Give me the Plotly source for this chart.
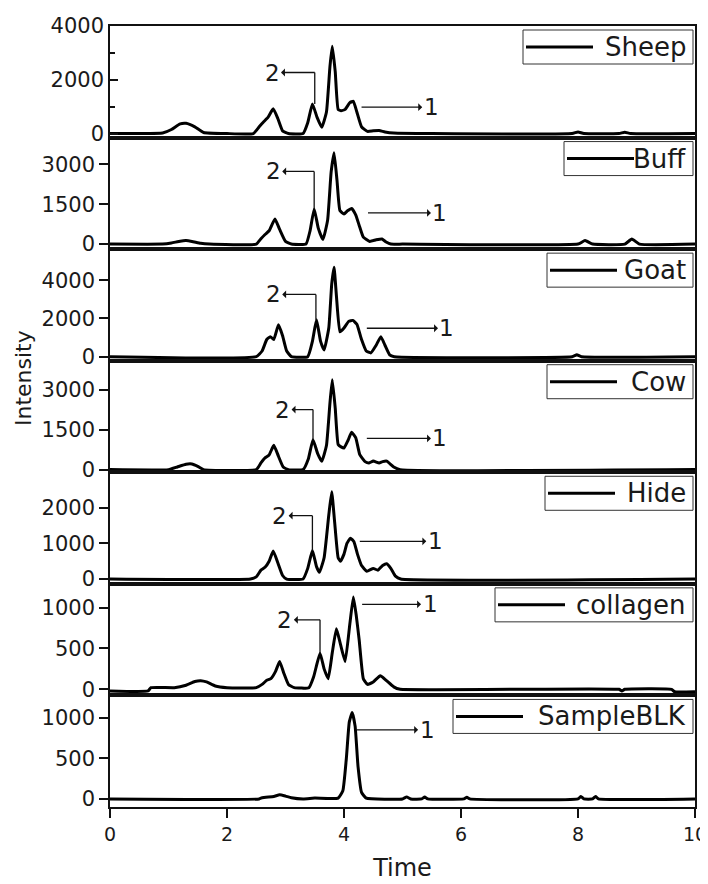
import plotly.graph_objects as go
from plotly.subplots import make_subplots

# ---------------- data ----------------
names = ["Sheep", "Buff", "Goat", "Cow", "Hide", "collagen", "SampleBLK"]

sheep_t = [0, 0.5, 0.9, 1.05, 1.2, 1.3, 1.45, 1.6, 2.0, 2.45, 2.55, 2.62, 2.7, 2.79, 2.87, 2.95, 3.05,
           3.3, 3.38, 3.46, 3.54, 3.62, 3.7, 3.76, 3.80, 3.85, 3.9, 3.95, 4.02, 4.1, 4.16, 4.22, 4.3,
           4.4, 4.5, 4.6, 4.7, 4.85, 5.5, 7.9, 8.0, 8.1, 8.7, 8.8, 8.9, 10]
sheep_i = [0, 0, 20, 150, 360, 380, 250, 40, 0, 0, 250, 420, 600, 920, 550, 100, 0,
           0, 400, 1100, 600, 230, 800, 2500, 3250, 2300, 900, 850, 900, 1150, 1200, 800, 250,
           80, 100, 110, 60, 20, 0, 0, 60, 0, 0, 50, 0, 0]

buff_t = [0, 0.9, 1.05, 1.2, 1.3, 1.4, 1.55, 1.7, 2.5, 2.58, 2.65, 2.72, 2.82, 2.9, 3.0, 3.1,
          3.35, 3.42, 3.49, 3.56, 3.64, 3.72, 3.78, 3.83, 3.88, 3.93, 4.0, 4.06, 4.13, 4.2, 4.26,
          4.33, 4.44, 4.55, 4.65, 4.72, 4.8, 5.0, 8.0, 8.12, 8.25, 8.8, 8.92, 9.05, 10]
buff_i = [0, 0, 40, 110, 130, 100, 30, 0, 0, 200, 360, 500, 940, 550, 100, 0,
          0, 500, 1320, 600, 170, 900, 2700, 3430, 2400, 1260, 1130, 1250, 1340, 1100, 700,
          260, 100, 160, 190, 80, 0, 0, 0, 130, 0, 0, 190, 0, 0]

goat_t = [0, 2.5, 2.6, 2.68, 2.74, 2.8, 2.88, 2.95, 3.02, 3.1, 3.38, 3.46, 3.53, 3.6, 3.66, 3.74,
          3.79, 3.83, 3.87, 3.93, 4.0, 4.08, 4.15, 4.22, 4.3, 4.38, 4.46, 4.55, 4.63, 4.7, 4.78,
          4.86, 7.9, 7.98, 8.06, 10]
goat_i = [0, 0, 300, 900, 1050, 900, 1670, 1100, 300, 0, 0, 800, 1930, 800, 350, 1500,
          3800, 4680, 3200, 1300, 1500, 1850, 1900, 1700, 900, 300, 200, 600, 1050, 600, 100,
          0, 0, 100, 0, 0]

cow_t = [0, 1.0, 1.15, 1.3, 1.4, 1.5, 1.6, 2.5, 2.58, 2.65, 2.72, 2.8, 2.88, 2.96, 3.05, 3.3,
         3.39, 3.47, 3.55, 3.62, 3.7, 3.76, 3.80, 3.85, 3.9, 3.95, 4.0, 4.07, 4.13, 4.2, 4.27,
         4.36, 4.43, 4.5, 4.6, 4.66, 4.73, 4.85, 4.96, 10]
cow_i = [0, 0, 100, 200, 210, 120, 0, 0, 250, 440, 550, 910, 500, 100, 0, 0,
         400, 1120, 600, 310, 900, 2500, 3370, 2300, 940, 850, 810, 1100, 1400, 1200, 560,
         300, 250, 320, 250, 300, 320, 100, 0, 0]

hide_t = [0, 2.4, 2.5, 2.58, 2.65, 2.72, 2.79, 2.87, 2.95, 3.02, 3.3, 3.38, 3.46, 3.53, 3.58,
          3.66, 3.74, 3.79, 3.84, 3.9, 3.94, 4.0, 4.05, 4.11, 4.17, 4.23, 4.3, 4.39, 4.5, 4.58,
          4.66, 4.73, 4.8, 4.88, 4.97, 10]
hide_i = [0, 0, 60, 250, 330, 500, 790, 450, 100, 0, 0, 300, 800, 350, 190,
          600, 1800, 2450, 1600, 600, 500, 700, 1000, 1150, 1050, 700, 380, 220, 300, 250,
          380, 430, 300, 80, 0, 0]

collagen_t = [0, 0.65, 0.7, 1.1, 1.3, 1.45, 1.55, 1.65, 1.8, 2.0, 2.5, 2.6, 2.68, 2.75, 2.83,
              2.9, 2.97, 3.05, 3.15, 3.4, 3.48, 3.59, 3.66, 3.73, 3.8, 3.87, 3.94, 4.02, 4.1,
              4.16, 4.21, 4.26, 4.33, 4.4, 4.5, 4.62, 4.72, 4.85, 4.96, 8.7, 8.75, 8.8, 9.6,
              9.65, 10]
collagen_i = [-20, -20, 20, 20, 50, 95, 105, 90, 40, 20, 20, 60, 110, 130, 220,
              340, 200, 60, 20, 20, 150, 440, 250, 130, 450, 740, 550, 340, 800,
              1130, 900, 600, 130, 60, 90, 165, 110, 30, 0, 0, -20, 0, 0,
              -30, -30]

blk_t = [0, 2.55, 2.6, 2.8, 2.9, 3.0, 3.1, 3.3, 3.5, 3.9, 3.98, 4.04, 4.09, 4.14, 4.19, 4.24,
         4.3, 4.38, 5.0, 5.07, 5.14, 5.33, 5.38, 5.43, 6.05, 6.1, 6.15, 8.0, 8.05, 8.1, 8.25,
         8.3, 8.35, 10]
blk_i = [0, 0, 15, 30, 50, 35, 15, 0, 10, 10, 100, 500, 950, 1070, 900, 400,
         80, 10, 0, 25, 0, 0, 25, 0, 0, 20, 0, 0, 30, 0, 0,
         30, 0, 0]

times = [sheep_t, buff_t, goat_t, cow_t, hide_t, collagen_t, blk_t]
intensities = [sheep_i, buff_i, goat_i, cow_i, hide_i, collagen_i, blk_i]

y_ranges = [[-150, 4000], [-190, 4000], [-210, 5630], [-100, 4080], [-135, 3000], [-75, 1290], [-100, 1280]]
y_ticks = [[0, 2000, 4000], [0, 1500, 3000], [0, 2000, 4000], [0, 1500, 3000],
           [0, 1000, 2000], [0, 500, 1000], [0, 500, 1000]]
x_ticks = [0, 2, 4, 6, 8, 10]

# peak "2" marker: (label time, label level, peak time, peak top)
peak2 = [(2.77, 2270, 3.50, 1100), (2.79, 2730, 3.49, 1320), (2.79, 3260, 3.52, 1930),
         (2.95, 2250, 3.47, 1120), (2.90, 1780, 3.46, 800), (2.99, 850, 3.59, 440), None]
# peak "1" marker: (arrow start time, label time, level)
peak1 = [(4.30, 5.49, 980), (4.41, 5.64, 1170), (4.39, 5.76, 1490), (4.39, 5.64, 1170),
         (4.27, 5.56, 1060), (4.31, 5.47, 1040), (4.22, 5.42, 855)]

# legend box widths (px) per panel
legend_w = [170, 129, 146, 146, 148, 198, 240]

# ---------------- figure ----------------
# the page body has an 8px default margin, so the figure is sized to fit inside it
FONT = "DejaVu Sans"
TXT = "#1a1a1a"
W, H = 700, 876
ML, MR, MT, MB = 102, 13, 18, 77
PW = W - ML - MR
n = len(names)
PH = (H - MT - MB) / n

fig = make_subplots(rows=n, cols=1, shared_xaxes=True, vertical_spacing=0)

for k in range(n):
    sfx = "" if k == 0 else str(k + 1)
    fig.add_trace(go.Scatter(x=times[k], y=intensities[k], mode="lines", name=names[k],
                             line=dict(color="black", width=3, shape="spline", smoothing=0.4),
                             showlegend=False), row=k + 1, col=1)

    yax = dict(range=y_ranges[k], tickvals=y_ticks[k], showgrid=False, zeroline=False,
               showline=True, mirror=True, linecolor="#111", linewidth=1.5, automargin=False,
               ticks="outside", ticklen=9, tickwidth=1.5, tickcolor="#111",
               ticklabeloverflow="allow",
               tickfont=dict(family=FONT, size=21, color=TXT))
    if k == 0:
        yax.update(ticks="inside", ticklen=8,
                   minor=dict(ticks="inside", ticklen=5, dtick=1000, tickwidth=1.5, tickcolor="#111"))
    fig.update_yaxes(row=k + 1, col=1, **yax)

    xax = dict(range=[0, 10], showgrid=False, zeroline=False, showline=True, mirror=True,
               linecolor="#111", linewidth=1.5, tickvals=x_ticks, automargin=False)
    if k == n - 1:
        xax.update(ticks="outside", ticklen=9, tickwidth=1.5, tickcolor="#111",
                   showticklabels=True, ticklabeloverflow="allow",
                   tickfont=dict(family=FONT, size=19, color=TXT),
                   title=dict(text="Time", font=dict(family=FONT, size=24, color=TXT), standoff=16))
    else:
        xax.update(ticks="", showticklabels=False)
    fig.update_xaxes(row=k + 1, col=1, **xax)

    xr, yr = "x" + sfx, "y" + sfx
    xd, yd = xr + " domain", yr + " domain"

    # legend box (drawn per panel)
    right = 1 - 2 / PW
    left = right - legend_w[k] / PW
    top = 1 - 4 / PH
    bot = top - 34 / PH
    mid = (top + bot) / 2
    fig.add_shape(type="rect", xref=xd, yref=yd, x0=left, x1=right, y0=bot, y1=top,
                  line=dict(color="#333", width=1), fillcolor="white", layer="above")
    fig.add_shape(type="line", xref=xd, yref=yd, x0=left + 3 / PW, x1=left + 70 / PW,
                  y0=mid, y1=mid, line=dict(color="black", width=3), layer="above")
    fig.add_annotation(xref=xd, yref=yd, x=right - 5 / PW, y=mid, text=names[k],
                       showarrow=False, xanchor="right", yanchor="middle",
                       font=dict(family=FONT, size=26, color=TXT))

    if peak2[k] is not None:
        lt, lv, pt, ptop = peak2[k]
        fig.add_shape(type="line", xref=xr, yref=yr, x0=pt, x1=pt, y0=ptop, y1=lv,
                      line=dict(color="#111", width=1.3))
        fig.add_annotation(xref=xr, yref=yr, axref=xr, ayref=yr, x=pt, y=lv, ax=lt, ay=lv,
                           text="2", showarrow=True, arrowside="start", arrowhead=2,
                           arrowsize=1.1, arrowwidth=1.3, arrowcolor="#111",
                           font=dict(family=FONT, size=23, color=TXT))
    st, lt1, lv1 = peak1[k]
    fig.add_annotation(xref=xr, yref=yr, axref=xr, ayref=yr, x=st, y=lv1, ax=lt1, ay=lv1,
                       text="1", showarrow=True, arrowside="start", arrowhead=2,
                       arrowsize=1.1, arrowwidth=1.3, arrowcolor="#111",
                       font=dict(family=FONT, size=23, color=TXT))

fig.add_annotation(xref="paper", yref="paper", x=-86 / PW, y=(H - MB - 370) / (H - MT - MB),
                   text="Intensity", textangle=-90, showarrow=False,
                   xanchor="center", yanchor="middle",
                   font=dict(family=FONT, size=22, color=TXT))

fig.update_layout(width=W, height=H, margin=dict(l=ML, r=MR, t=MT, b=MB, autoexpand=False),
                  paper_bgcolor="white", plot_bgcolor="white",
                  font=dict(family=FONT, color=TXT))

fig.write_html("out.html")
